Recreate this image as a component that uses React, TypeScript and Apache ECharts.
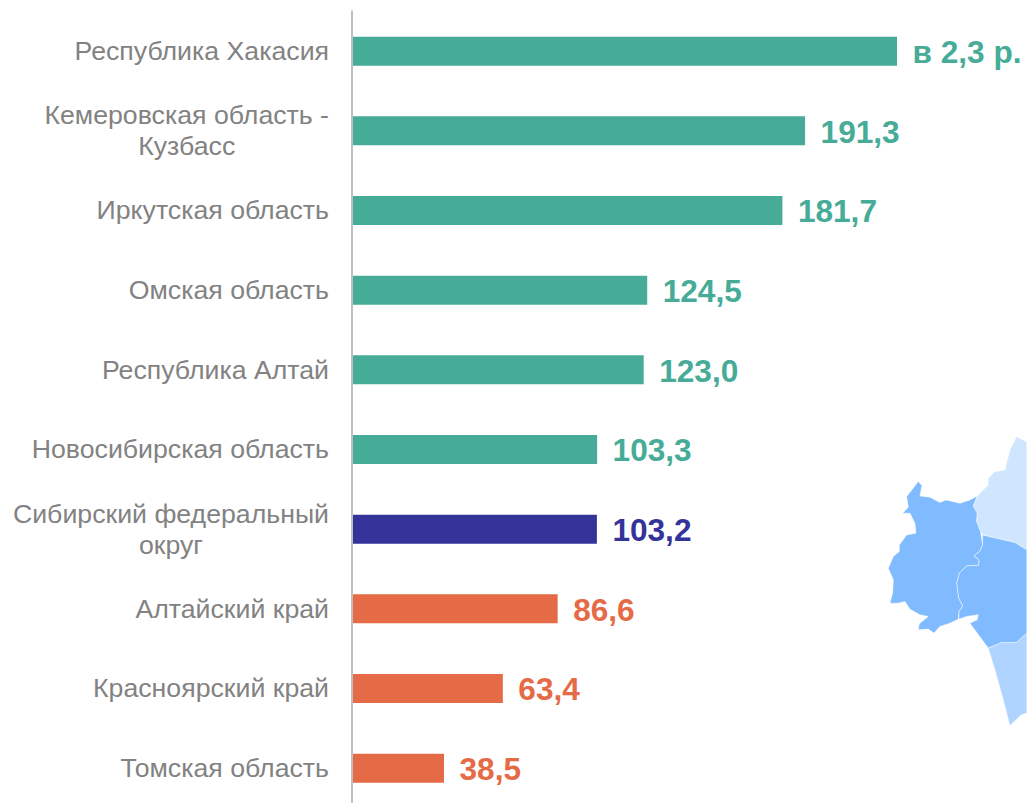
import React, { useEffect, useRef } from "react";
import * as echarts from "echarts";

const categories = [
  "Республика Хакасия",
  "Кемеровская область -\nКузбасс",
  "Иркутская область",
  "Омская область",
  "Республика Алтай",
  "Новосибирская область",
  "Сибирский федеральный\nокруг",
  "Алтайский край",
  "Красноярский край",
  "Томская область",
];
const values = [230.2, 191.3, 181.7, 124.5, 123.0, 103.3, 103.2, 86.6, 63.4, 38.5];
const valueLabels = ["в 2,3 р.", "191,3", "181,7", "124,5", "123,0", "103,3", "103,2", "86,6", "63,4", "38,5"];
const TEAL = "#46AB97";
const NAVY = "#333399";
const ORANGE = "#E56A46";
const barColors = [TEAL, TEAL, TEAL, TEAL, TEAL, TEAL, NAVY, ORANGE, ORANGE, ORANGE];

// Decorative map (zoomed 3x coordinates)
const omsk = [[175,185],[186,197],[180,228],[210,232],[240,248],[258,240],[300,250],[330,240],[352,228],[340,258],[352,280],[350,305],[362,335],[368,375],[360,393],[342,408],[357,420],[356,436],[320,438],[298,460],[290,490],[296,535],[308,558],[297,575],[295,598],[270,610],[240,620],[222,640],[205,628],[175,630],[178,612],[205,590],[180,585],[150,568],[135,545],[115,550],[90,550],[98,520],[100,480],[85,445],[100,410],[118,395],[118,375],[140,345],[168,340],[165,310],[150,280],[128,280],[145,262],[140,230]];
const novosibirsk = [[368,345],[465,368],[501,390],[501,640],[470,668],[425,668],[385,685],[330,610],[352,600],[355,585],[320,590],[297,598],[297,575],[308,558],[296,535],[290,490],[298,460],[320,438],[356,436],[357,420],[342,408],[360,393],[368,375]];
const tomsk = [[470,50],[501,65],[501,390],[465,368],[368,345],[362,335],[350,305],[352,280],[340,258],[352,228],[385,195],[385,175],[405,155],[435,150],[450,90]];
const altai = [[385,685],[425,668],[470,668],[501,640],[501,880],[485,885],[450,918],[430,840],[405,750]];
const regions: [number[][], string][] = [
  [tomsk, "#D0E6FF"],
  [altai, "#AED4FF"],
  [novosibirsk, "#80BAFF"],
  [omsk, "#80BAFF"],
];

export default function App() {
  const ref = useRef<HTMLDivElement>(null);
  useEffect(() => {
    const chart = echarts.init(ref.current!, undefined, { renderer: "svg" });
    chart.setOption({
      animation: false,
      backgroundColor: "#fff",
      textStyle: { fontFamily: "Liberation Sans" },
      grid: { left: 353, width: 674, top: 11.3, height: 796.7, containLabel: false, outerBoundsMode: "none" },
      xAxis: { type: "value", min: 0, max: 285.2, show: false },
      yAxis: {
        type: "category",
        inverse: true,
        data: categories,
        offset: 1,
        axisLine: { show: true, onZero: false, lineStyle: { color: "#BFBFBF", width: 2 } },
        axisTick: { show: false },
        splitLine: { show: false },
        axisLabel: {
          margin: 23,
          color: "#828282",
          fontSize: 26.7,
          fontFamily: "Liberation Sans",
          lineHeight: 31,
          formatter: (v: string) => {
            if (v.includes("\n")) {
              const [a, b] = v.split("\n");
              return `{c|${a}}\n{c|${b}}`;
            }
            return v;
          },
          rich: {
            c: { align: "center", fontSize: 26.7, lineHeight: 31, color: "#828282", fontFamily: "Liberation Sans" },
          },
        },
      },
      series: [
        {
          type: "bar",
          barWidth: 29,
          data: values.map((value, i) => ({
            value,
            itemStyle: { color: barColors[i] },
            label: {
              show: true,
              position: "right",
              distance: 15.5,
              offset: [0, 1],
              formatter: valueLabels[i],
              color: barColors[i],
              fontSize: 31.6,
              fontWeight: "bold",
              fontFamily: "Liberation Sans",
            },
          })),
        },
      ],
      graphic: [
        {
          type: "group",
          x: 860,
          y: 420,
          scaleX: 1 / 3,
          scaleY: 1 / 3,
          silent: true,
          children: regions.map(([pts, fill]) => ({
            type: "polygon",
            shape: { points: pts },
            style: { fill, stroke: "#fff", lineWidth: 1.5 },
          })),
        },
      ],
    });
    return () => chart.dispose();
  }, []);
  return <div ref={ref} style={{ position: "fixed", left: 0, top: 0, width: 1027, height: 803 }} />;
}
